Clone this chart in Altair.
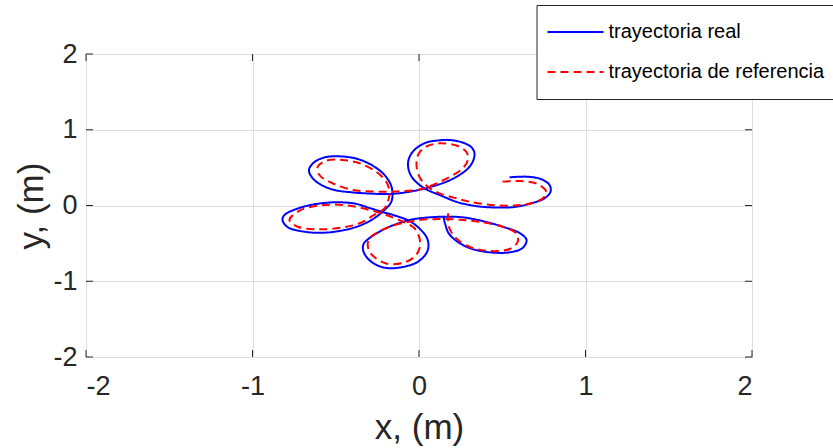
import altair as alt
import pandas as pd

# Measured trajectory (x, y in metres)
real_x = [0.147, 0.159, 0.177, 0.225, 0.303, 0.423, 0.544, 0.622, 0.646, 0.604,
          0.502, 0.381, 0.261, 0.141, 0.021, -0.057, -0.135, -0.219, -0.297, -0.333,
          -0.336, -0.315, -0.267, -0.195, -0.099, -0.009, 0.045, 0.057, 0.045, 0.003,
          -0.057, -0.135, -0.219, -0.297, -0.387, -0.508, -0.628, -0.736, -0.808, -0.820,
          -0.790, -0.688, -0.568, -0.447, -0.345, -0.267, -0.207, -0.167, -0.159, -0.171,
          -0.213, -0.285, -0.369, -0.459, -0.556, -0.628, -0.661, -0.640, -0.586, -0.508,
          -0.405, -0.297, -0.177, -0.057, 0.045, 0.165, 0.243, 0.297, 0.327, 0.333,
          0.314, 0.261, 0.183, 0.111, 0.045, -0.015, -0.051, -0.066, -0.060, -0.039,
          0.003, 0.051, 0.123, 0.223, 0.303, 0.393, 0.483, 0.574, 0.670, 0.754,
          0.790, 0.784, 0.736, 0.652, 0.544]
real_y = [-0.152, -0.257, -0.363, -0.469, -0.561, -0.618, -0.618, -0.561, -0.455, -0.363,
          -0.280, -0.205, -0.156, -0.148, -0.165, -0.191, -0.244, -0.323, -0.429, -0.508,
          -0.587, -0.680, -0.772, -0.825, -0.812, -0.746, -0.627, -0.521, -0.416, -0.304,
          -0.205, -0.139, -0.086, -0.033, 0.026, 0.042, 0.016, -0.046, -0.125, -0.191,
          -0.284, -0.346, -0.359, -0.323, -0.257, -0.165, -0.059, 0.046, 0.165, 0.284,
          0.416, 0.535, 0.614, 0.647, 0.640, 0.574, 0.469, 0.363, 0.271, 0.205,
          0.174, 0.158, 0.152, 0.182, 0.231, 0.314, 0.403, 0.495, 0.601, 0.693,
          0.772, 0.832, 0.865, 0.858, 0.832, 0.759, 0.667, 0.561, 0.455, 0.363,
          0.271, 0.205, 0.139, 0.050, 0.007, -0.020, -0.026, -0.020, 0.026, 0.095,
          0.182, 0.271, 0.346, 0.380, 0.372]

# Reference trajectory (x, y in metres)
ref_x = [0.175, 0.175, 0.183, 0.223, 0.303, 0.423, 0.544, 0.593, 0.584, 0.503,
         0.383, 0.263, 0.143, 0.003, -0.077, -0.177, -0.257, -0.297, -0.308, -0.297,
         -0.261, -0.197, -0.097, -0.027, 0.003, 0.003, -0.027, -0.097, -0.197, -0.297,
         -0.428, -0.568, -0.708, -0.778, -0.728, -0.608, -0.467, -0.357, -0.277, -0.207,
         -0.187, -0.177, -0.197, -0.257, -0.357, -0.458, -0.557, -0.608, -0.598, -0.518,
         -0.398, -0.257, -0.135, 0.003, 0.083, 0.183, 0.263, 0.293, 0.285, 0.225,
         0.123, 0.045, -0.003, -0.015, 0.003, 0.053, 0.123, 0.223, 0.303, 0.434,
         0.574, 0.674, 0.744, 0.764, 0.714, 0.614, 0.495]
ref_y = [-0.103, -0.191, -0.301, -0.433, -0.544, -0.601, -0.574, -0.478, -0.367, -0.280,
         -0.222, -0.191, -0.178, -0.191, -0.222, -0.280, -0.367, -0.433, -0.508, -0.610,
         -0.693, -0.766, -0.759, -0.676, -0.565, -0.433, -0.301, -0.214, -0.125, -0.059,
         0.000, 0.007, -0.059, -0.191, -0.280, -0.314, -0.293, -0.235, -0.135, -0.037,
         0.050, 0.182, 0.314, 0.446, 0.557, 0.601, 0.591, 0.512, 0.403, 0.293,
         0.205, 0.182, 0.185, 0.211, 0.271, 0.376, 0.491, 0.601, 0.706, 0.792,
         0.821, 0.779, 0.680, 0.535, 0.376, 0.248, 0.161, 0.095, 0.050, 0.007,
         0.000, 0.029, 0.095, 0.182, 0.280, 0.323, 0.314]

series_names = ["trayectoria real", "trayectoria de referencia"]
series_colors = ["#0000ff", "#ff0000"]
series_dash = [[1, 0], [8, 5]]
tick_values = [-2, -1, 0, 1, 2]
axis_domain = [-2, 2]

FONT = "Liberation Sans"
INK = "#262626"
W, H = 666, 303
TICK_LEN = 7

def to_frame(xs, ys, name):
    return pd.DataFrame({"x": xs, "y": ys, "serie": name, "orden": range(len(xs))})

df_real = to_frame(real_x, real_y, series_names[0])
df_ref = to_frame(ref_x, ref_y, series_names[1])
df_ticks = pd.DataFrame({"v": tick_values})

x_scale = alt.Scale(domain=axis_domain, nice=False, zero=False)
y_scale = alt.Scale(domain=axis_domain, nice=False, zero=False)

# plain hyphen-minus in the tick labels
label_expr = "'' + datum.value"

x_axis = alt.Axis(values=tick_values, title="x, (m)", grid=True, ticks=False, domain=False,
                  labelPadding=16, titlePadding=11, labelExpr=label_expr)
y_axis = alt.Axis(values=tick_values, title="y, (m)", grid=True, ticks=False, domain=False,
                  labelPadding=9, titlePadding=3, labelExpr=label_expr)

legend = alt.Legend(
    title=None, orient="none", legendX=450.5, legendY=-49, direction="vertical",
    symbolType="stroke", symbolSize=3136, symbolStrokeWidth=2,
    labelFontSize=20, labelFont=FONT, labelColor="#000000", labelOffset=4, labelLimit=0,
    clipHeight=34, rowPadding=6, padding=10,
    strokeColor=INK, fillColor="white",
)

color = alt.Color("serie:N", scale=alt.Scale(domain=series_names, range=series_colors), legend=legend)
dash = alt.StrokeDash("serie:N", scale=alt.Scale(domain=series_names, range=series_dash), legend=legend)

def path_layer(df):
    return alt.Chart(df).mark_line(strokeWidth=2, interpolate="catmull-rom").encode(
        x=alt.X("x:Q", scale=x_scale, axis=x_axis),
        y=alt.Y("y:Q", scale=y_scale, axis=y_axis),
        order=alt.Order("orden:Q"),
        color=color,
        strokeDash=dash,
    )

# Inward tick marks on all four sides of the box
tick_style = dict(color=INK, strokeWidth=1)
ticks_bottom = alt.Chart(df_ticks).mark_rule(**tick_style).encode(
    x=alt.X("v:Q", scale=x_scale), y=alt.value(H), y2=alt.value(H - TICK_LEN))
ticks_top = alt.Chart(df_ticks).mark_rule(**tick_style).encode(
    x=alt.X("v:Q", scale=x_scale), y=alt.value(0), y2=alt.value(TICK_LEN))
ticks_left = alt.Chart(df_ticks).mark_rule(**tick_style).encode(
    y=alt.Y("v:Q", scale=y_scale), x=alt.value(0), x2=alt.value(TICK_LEN))
ticks_right = alt.Chart(df_ticks).mark_rule(**tick_style).encode(
    y=alt.Y("v:Q", scale=y_scale), x=alt.value(W), x2=alt.value(W - TICK_LEN))

chart = alt.layer(
    ticks_bottom, ticks_top, ticks_left, ticks_right,
    path_layer(df_real), path_layer(df_ref),
).properties(
    width=W, height=H,
    autosize=alt.AutoSizeParams(type="none"),
    padding={"left": 86, "top": 54, "right": 81, "bottom": 91},
    background="white",
).configure_view(
    stroke=INK, strokeWidth=1,
).configure_axis(
    labelFont=FONT, titleFont=FONT, labelFontSize=27, titleFontSize=35,
    labelColor=INK, titleColor=INK, titleFontWeight="normal",
    gridColor="#dedede", gridWidth=1,
)

chart.save("out.html", embed_options={"renderer": "svg", "actions": False})
